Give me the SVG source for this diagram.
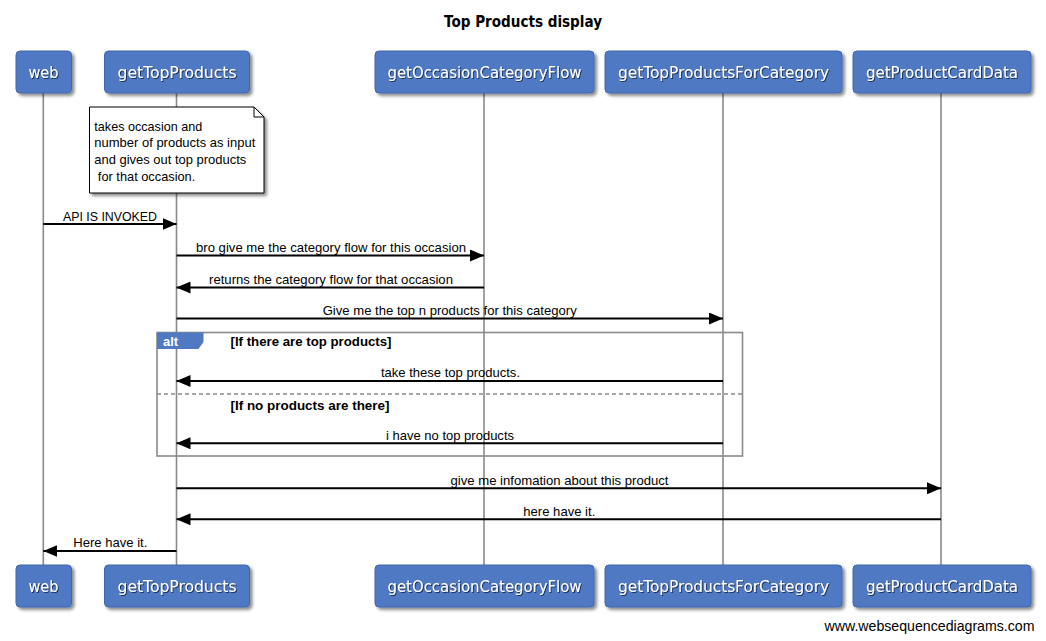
<svg xmlns="http://www.w3.org/2000/svg" width="1046" height="641" viewBox="0 0 1046 641">
<style>
.box{fill:#4f79c3;stroke:#3f66ad;stroke-width:1}
.plabel{font-family:"DejaVu Sans","Liberation Sans",sans-serif;font-size:16px;fill:#ffffff;text-anchor:middle}
.life{stroke:#8a8a8a;stroke-width:1.6;fill:none}
.msg{stroke:#000;stroke-width:2;fill:none}
.mlabel{font-family:"Liberation Sans",Arial,sans-serif;font-size:13.5px;fill:#000;text-anchor:middle}
.guard{font-family:"Liberation Sans",Arial,sans-serif;font-size:13px;font-weight:bold;fill:#000}
.note{fill:#fff;stroke:#000;stroke-width:1}
.ntext{font-family:"Liberation Sans",Arial,sans-serif;font-size:13.5px;fill:#000}
.frame{stroke:#8a8a8a;stroke-width:1.6;fill:none}
</style>
<defs>
<filter id="sh" x="-10%" y="-10%" width="130%" height="140%">
<feDropShadow dx="2.5" dy="2.5" stdDeviation="1.5" flood-color="#000" flood-opacity="0.45"/>
</filter>
<filter id="tsh" x="-10%" y="-30%" width="120%" height="160%">
<feDropShadow dx="1" dy="1" stdDeviation="0.6" flood-color="#102040" flood-opacity="0.8"/>
</filter>
<marker id="ah" viewBox="0 0 14 12" refX="14" refY="6" markerWidth="14" markerHeight="12" markerUnits="userSpaceOnUse" orient="auto">
<path d="M0,0 L14,6 L0,12 Z" fill="#000"/>
</marker>
</defs>
<rect width="1046" height="641" fill="#fff"/>
<text x="523" y="27" font-family="DejaVu Sans,'Liberation Sans',sans-serif" font-size="15.5" font-weight="bold" text-anchor="middle" textLength="158" lengthAdjust="spacingAndGlyphs">Top Products display</text>

<g id="lifelines">
<line class="life" x1="43.3" y1="93" x2="43.3" y2="565"/>
<line class="life" x1="176.5" y1="93" x2="176.5" y2="565"/>
<line class="life" x1="484" y1="93" x2="484" y2="565"/>
<line class="life" x1="723" y1="93" x2="723" y2="565"/>
<line class="life" x1="941" y1="93" x2="941" y2="565"/>
</g>

<g id="alt-frame">
<rect class="frame" x="157" y="332.5" width="585.5" height="123.5"/>
<line class="frame" x1="157" y1="394" x2="742.5" y2="394" stroke-dasharray="4,3"/>
<path d="M157,332.5 H203.5 V342 L198.5,349 H157 Z" fill="#4f79c3"/>
<text x="163" y="345.5" font-family="'Liberation Sans',Arial,sans-serif" font-size="13" font-weight="bold" fill="#fff">alt</text>
<text class="guard" x="230.5" y="345.5" textLength="161" lengthAdjust="spacingAndGlyphs">[If there are top products]</text>
<text class="guard" x="230.5" y="409.5" textLength="159" lengthAdjust="spacingAndGlyphs">[If no products are there]</text>
</g>

<g id="p-web">
<rect class="box" x="16" y="51" width="55.5" height="42" rx="4" filter="url(#sh)"/>
<text class="plabel" x="43.5" y="77.5" textLength="30" lengthAdjust="spacingAndGlyphs" filter="url(#tsh)">web</text>
<rect class="box" x="16" y="565" width="55.5" height="42" rx="4" filter="url(#sh)"/>
<text class="plabel" x="43.5" y="591.5" textLength="30" lengthAdjust="spacingAndGlyphs" filter="url(#tsh)">web</text>
</g>
<g id="p-getTopProducts">
<rect class="box" x="104.5" y="51" width="145" height="42" rx="4" filter="url(#sh)"/>
<text class="plabel" x="177" y="77.5" textLength="119" lengthAdjust="spacingAndGlyphs" filter="url(#tsh)">getTopProducts</text>
<rect class="box" x="104.5" y="565" width="145" height="42" rx="4" filter="url(#sh)"/>
<text class="plabel" x="177" y="591.5" textLength="119" lengthAdjust="spacingAndGlyphs" filter="url(#tsh)">getTopProducts</text>
</g>
<g id="p-getOccasionCategoryFlow">
<rect class="box" x="375" y="51" width="219" height="42" rx="4" filter="url(#sh)"/>
<text class="plabel" x="484.5" y="77.5" textLength="194" lengthAdjust="spacingAndGlyphs" filter="url(#tsh)">getOccasionCategoryFlow</text>
<rect class="box" x="375" y="565" width="219" height="42" rx="4" filter="url(#sh)"/>
<text class="plabel" x="484.5" y="591.5" textLength="194" lengthAdjust="spacingAndGlyphs" filter="url(#tsh)">getOccasionCategoryFlow</text>
</g>
<g id="p-getTopProductsForCategory">
<rect class="box" x="605" y="51" width="237" height="42" rx="4" filter="url(#sh)"/>
<text class="plabel" x="723.5" y="77.5" textLength="211" lengthAdjust="spacingAndGlyphs" filter="url(#tsh)">getTopProductsForCategory</text>
<rect class="box" x="605" y="565" width="237" height="42" rx="4" filter="url(#sh)"/>
<text class="plabel" x="723.5" y="591.5" textLength="211" lengthAdjust="spacingAndGlyphs" filter="url(#tsh)">getTopProductsForCategory</text>
</g>
<g id="p-getProductCardData">
<rect class="box" x="853" y="51" width="178" height="42" rx="4" filter="url(#sh)"/>
<text class="plabel" x="942" y="77.5" textLength="152" lengthAdjust="spacingAndGlyphs" filter="url(#tsh)">getProductCardData</text>
<rect class="box" x="853" y="565" width="178" height="42" rx="4" filter="url(#sh)"/>
<text class="plabel" x="942" y="591.5" textLength="152" lengthAdjust="spacingAndGlyphs" filter="url(#tsh)">getProductCardData</text>
</g>

<g id="note">
<path class="note" d="M89.5,107 H254 L264,117 V193 H89.5 Z" filter="url(#sh)"/>
<path d="M254,107 V117 H264" fill="none" stroke="#000" stroke-width="1"/>
<text class="ntext" x="94.3" y="130.5" textLength="108" lengthAdjust="spacingAndGlyphs">takes occasion and</text>
<text class="ntext" x="94.3" y="147" textLength="161" lengthAdjust="spacingAndGlyphs">number of products as input</text>
<text class="ntext" x="94.3" y="163.5" textLength="152" lengthAdjust="spacingAndGlyphs">and gives out top products</text>
<text class="ntext" x="94.3" y="180.5" xml:space="preserve" textLength="101" lengthAdjust="spacingAndGlyphs"> for that occasion.</text>
</g>

<g id="connectors">
<line class="msg" x1="43.3" y1="224" x2="176.5" y2="224" marker-end="url(#ah)"/>
<text class="mlabel" x="110" y="220.5" textLength="94" lengthAdjust="spacingAndGlyphs">API IS INVOKED</text>
<line class="msg" x1="176.5" y1="255.5" x2="484" y2="255.5" marker-end="url(#ah)"/>
<text class="mlabel" x="331" y="252" textLength="270" lengthAdjust="spacingAndGlyphs">bro give me the category flow for this occasion</text>
<line class="msg" x1="484" y1="287.5" x2="176.5" y2="287.5" marker-end="url(#ah)"/>
<text class="mlabel" x="331" y="283.5" textLength="244" lengthAdjust="spacingAndGlyphs">returns the category flow for that occasion</text>
<line class="msg" x1="176.5" y1="318.5" x2="723" y2="318.5" marker-end="url(#ah)"/>
<text class="mlabel" x="449.7" y="315" textLength="254" lengthAdjust="spacingAndGlyphs">Give me the top n products for this category</text>
<line class="msg" x1="723" y1="381" x2="176.5" y2="381" marker-end="url(#ah)"/>
<text class="mlabel" x="450.5" y="377" textLength="139" lengthAdjust="spacingAndGlyphs">take these top products.</text>
<line class="msg" x1="723" y1="443.3" x2="176.5" y2="443.3" marker-end="url(#ah)"/>
<text class="mlabel" x="450" y="439.5" textLength="128" lengthAdjust="spacingAndGlyphs">i have no top products</text>
<line class="msg" x1="176.5" y1="488.3" x2="941" y2="488.3" marker-end="url(#ah)"/>
<text class="mlabel" x="559.5" y="484.5" textLength="218" lengthAdjust="spacingAndGlyphs">give me infomation about this product</text>
<line class="msg" x1="941" y1="519.3" x2="176.5" y2="519.3" marker-end="url(#ah)"/>
<text class="mlabel" x="559.3" y="515.5" textLength="72" lengthAdjust="spacingAndGlyphs">here have it.</text>
<line class="msg" x1="176.5" y1="551" x2="43.3" y2="551" marker-end="url(#ah)"/>
<text class="mlabel" x="110.3" y="547" textLength="74" lengthAdjust="spacingAndGlyphs">Here have it.</text>
</g>

<text x="1034.5" y="630.5" font-family="'Liberation Sans',Arial,sans-serif" font-size="14" fill="#000" text-anchor="end" textLength="210" lengthAdjust="spacingAndGlyphs">www.websequencediagrams.com</text>
</svg>
